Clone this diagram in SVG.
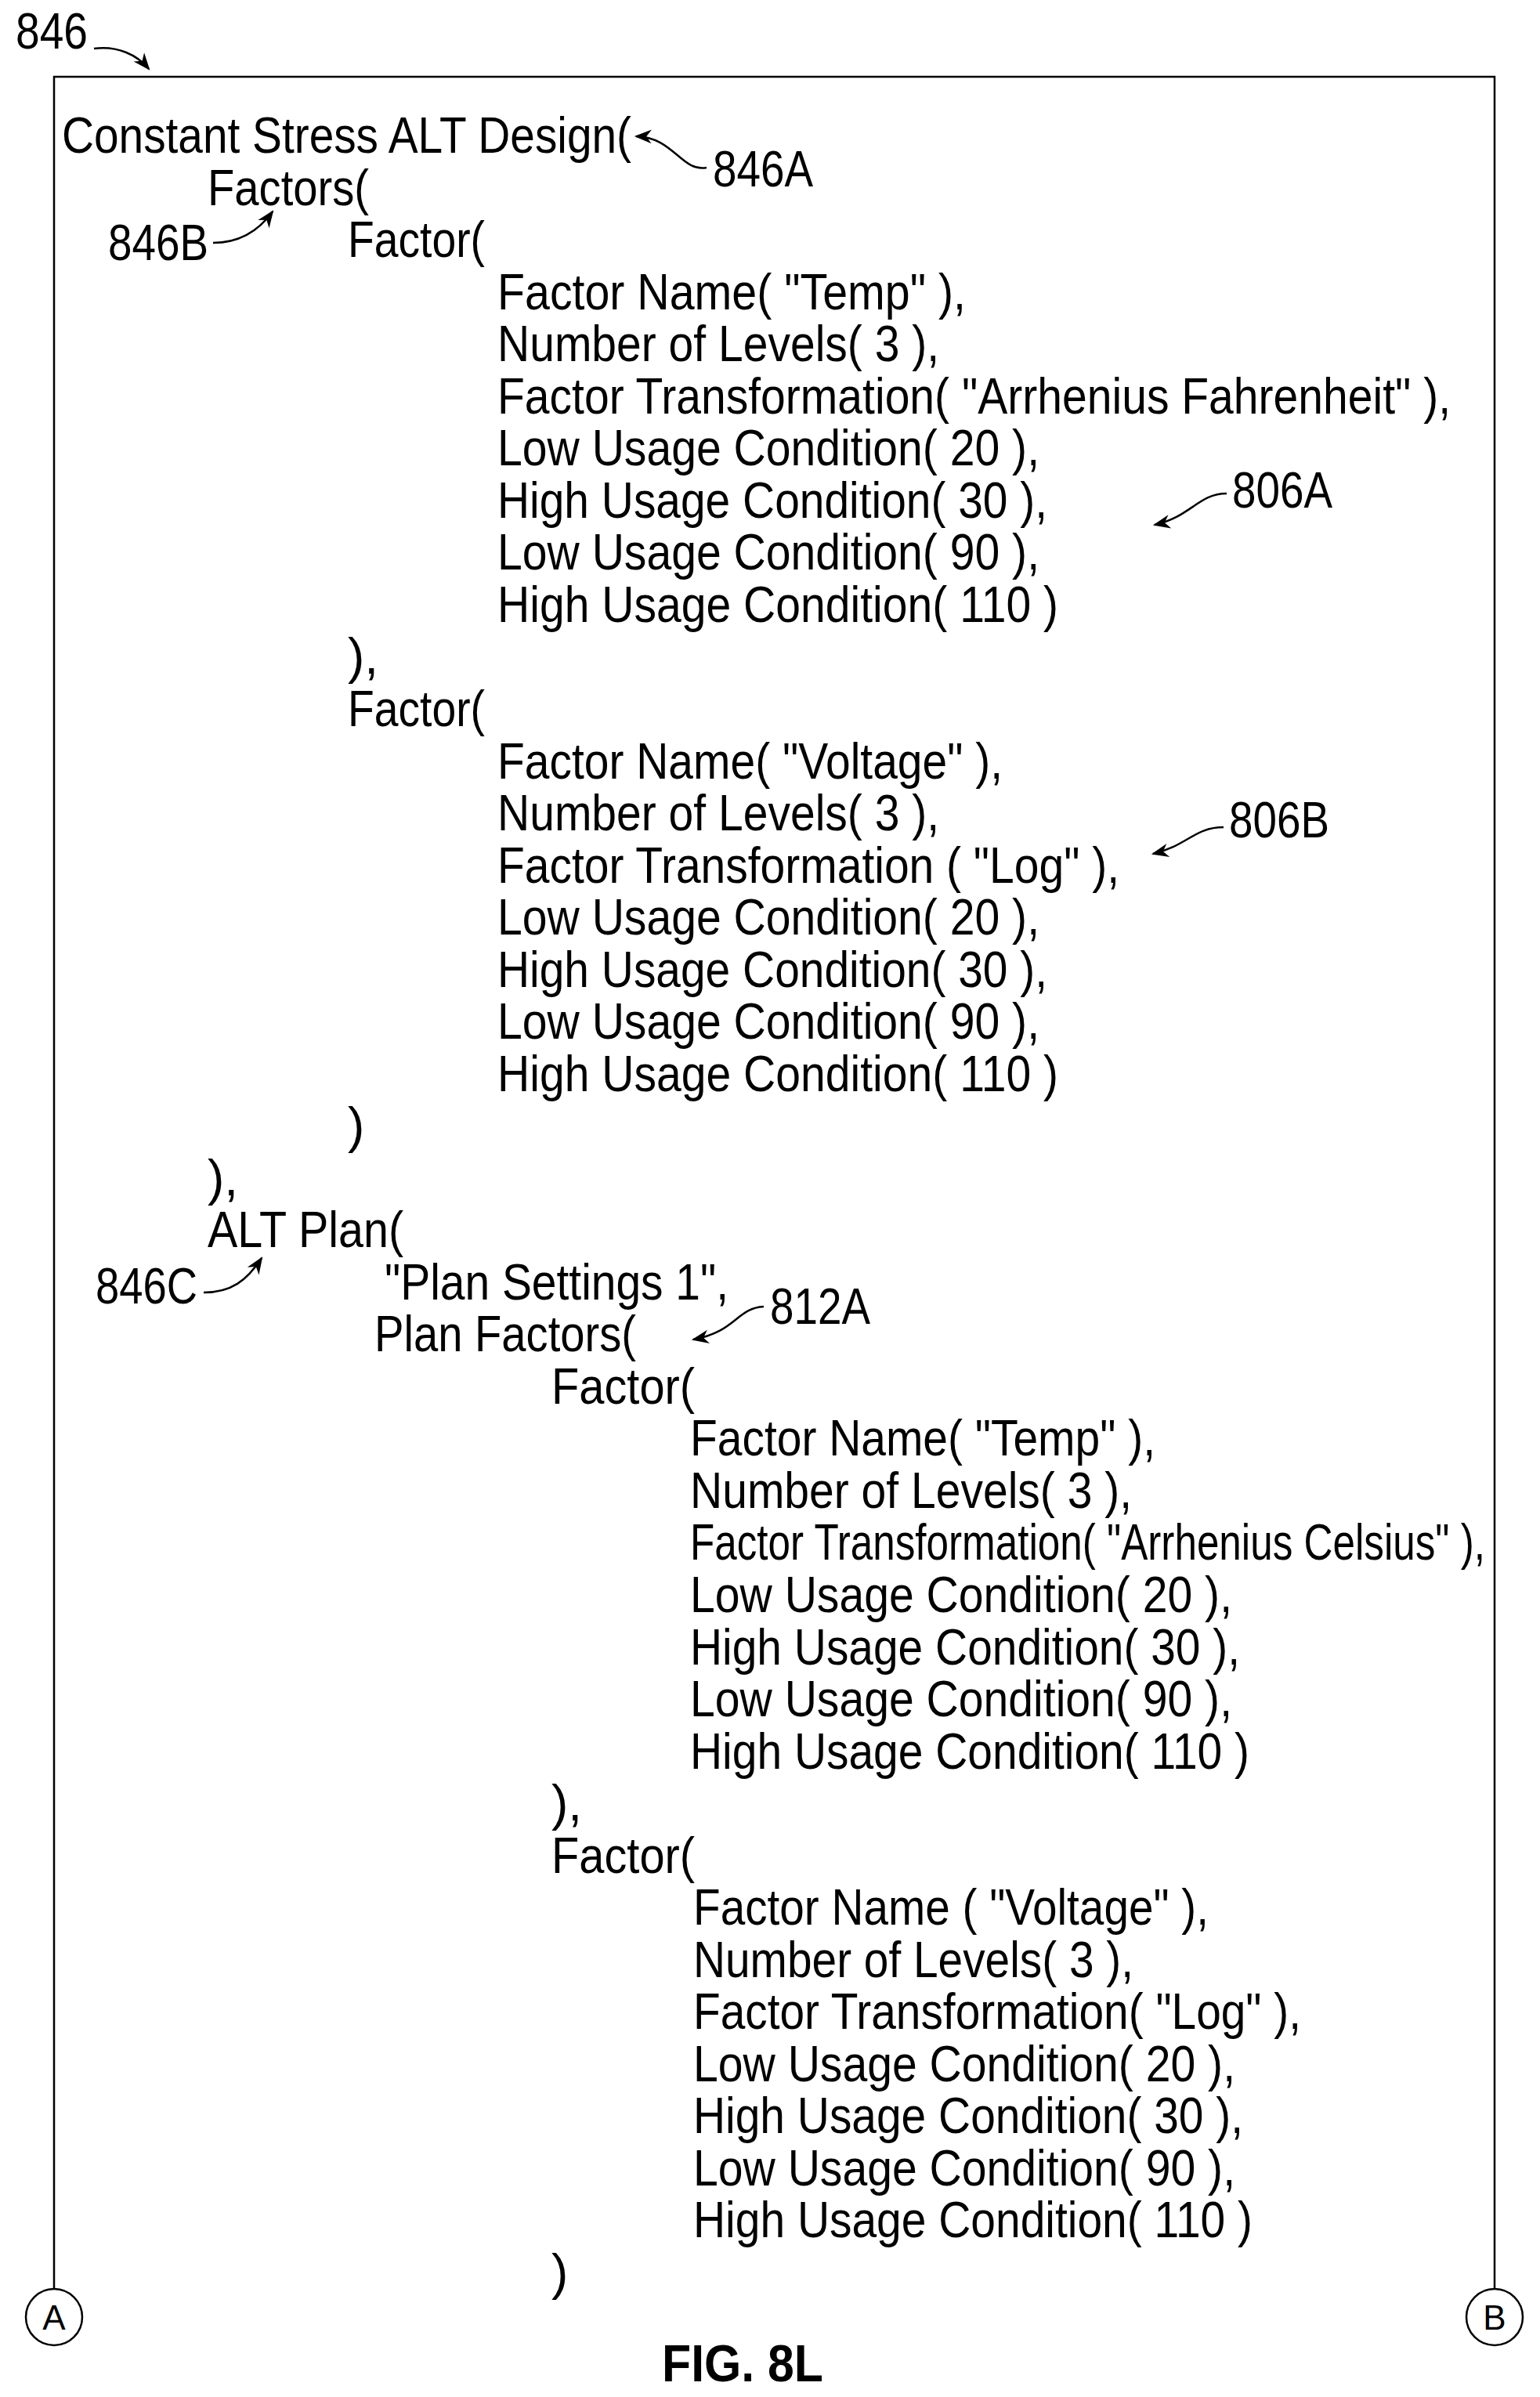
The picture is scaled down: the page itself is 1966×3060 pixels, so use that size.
<svg xmlns="http://www.w3.org/2000/svg" width="1966" height="3060" viewBox="0 0 1966 3060">
<style>
text{font-family:"Liberation Sans",Arial,sans-serif;font-size:64px;fill:#000}
.c{stroke:#000;stroke-width:2.5;fill:none}
.fig{font-weight:bold;font-size:66px}
.ci{font-size:44px}
</style>
<defs>
<marker id="ah" viewBox="0 0 10 10" refX="9" refY="5" markerWidth="26" markerHeight="22" markerUnits="userSpaceOnUse" orient="auto"><path d="M0,1 L10,5 L0,9 L3,5 Z" fill="#000"/></marker>
</defs>
<rect width="1966" height="3060" fill="#fff"/>
<g id="frame">
<path class="c" d="M69,2922 V98 H1908 V2922"/>
<circle class="c" cx="69" cy="2958" r="36"/>
<text class="ci" x="69" y="2974" text-anchor="middle">A</text>
<circle class="c" cx="1908" cy="2958" r="36"/>
<text class="ci" x="1908" y="2974" text-anchor="middle">B</text>
</g>
<g id="code">
<text x="79" y="195" textLength="727" lengthAdjust="spacingAndGlyphs">Constant Stress ALT Design(</text>
<text x="265" y="262" textLength="206" lengthAdjust="spacingAndGlyphs">Factors(</text>
<text x="444" y="328" textLength="175" lengthAdjust="spacingAndGlyphs">Factor(</text>
<text x="635" y="395" textLength="598" lengthAdjust="spacingAndGlyphs">Factor Name( "Temp" ),</text>
<text x="635" y="461" textLength="564" lengthAdjust="spacingAndGlyphs">Number of Levels( 3 ),</text>
<text x="635" y="528" textLength="1217" lengthAdjust="spacingAndGlyphs">Factor Transformation( "Arrhenius Fahrenheit" ),</text>
<text x="635" y="594" textLength="692" lengthAdjust="spacingAndGlyphs">Low Usage Condition( 20 ),</text>
<text x="635" y="661" textLength="702" lengthAdjust="spacingAndGlyphs">High Usage Condition( 30 ),</text>
<text x="635" y="727" textLength="692" lengthAdjust="spacingAndGlyphs">Low Usage Condition( 90 ),</text>
<text x="635" y="794" textLength="716" lengthAdjust="spacingAndGlyphs">High Usage Condition( 110 )</text>
<text x="444" y="860">),</text>
<text x="444" y="927" textLength="175" lengthAdjust="spacingAndGlyphs">Factor(</text>
<text x="635" y="994" textLength="645" lengthAdjust="spacingAndGlyphs">Factor Name( "Voltage" ),</text>
<text x="635" y="1060" textLength="564" lengthAdjust="spacingAndGlyphs">Number of Levels( 3 ),</text>
<text x="635" y="1127" textLength="794" lengthAdjust="spacingAndGlyphs">Factor Transformation ( "Log" ),</text>
<text x="635" y="1193" textLength="692" lengthAdjust="spacingAndGlyphs">Low Usage Condition( 20 ),</text>
<text x="635" y="1260" textLength="702" lengthAdjust="spacingAndGlyphs">High Usage Condition( 30 ),</text>
<text x="635" y="1326" textLength="692" lengthAdjust="spacingAndGlyphs">Low Usage Condition( 90 ),</text>
<text x="635" y="1393" textLength="716" lengthAdjust="spacingAndGlyphs">High Usage Condition( 110 )</text>
<text x="444" y="1459">)</text>
<text x="265" y="1526">),</text>
<text x="265" y="1592" textLength="250" lengthAdjust="spacingAndGlyphs">ALT Plan(</text>
<text x="491" y="1659" textLength="439" lengthAdjust="spacingAndGlyphs">"Plan Settings 1",</text>
<text x="478" y="1725" textLength="334" lengthAdjust="spacingAndGlyphs">Plan Factors(</text>
<text x="704" y="1792" textLength="183" lengthAdjust="spacingAndGlyphs">Factor(</text>
<text x="881" y="1858" textLength="594" lengthAdjust="spacingAndGlyphs">Factor Name( "Temp" ),</text>
<text x="881" y="1925" textLength="564" lengthAdjust="spacingAndGlyphs">Number of Levels( 3 ),</text>
<text x="881" y="1991" textLength="1015" lengthAdjust="spacingAndGlyphs">Factor Transformation( "Arrhenius Celsius" ),</text>
<text x="881" y="2058" textLength="692" lengthAdjust="spacingAndGlyphs">Low Usage Condition( 20 ),</text>
<text x="881" y="2125" textLength="702" lengthAdjust="spacingAndGlyphs">High Usage Condition( 30 ),</text>
<text x="881" y="2191" textLength="692" lengthAdjust="spacingAndGlyphs">Low Usage Condition( 90 ),</text>
<text x="881" y="2258" textLength="714" lengthAdjust="spacingAndGlyphs">High Usage Condition( 110 )</text>
<text x="704" y="2324">),</text>
<text x="704" y="2391" textLength="183" lengthAdjust="spacingAndGlyphs">Factor(</text>
<text x="885" y="2457" textLength="658" lengthAdjust="spacingAndGlyphs">Factor Name ( "Voltage" ),</text>
<text x="885" y="2524" textLength="562" lengthAdjust="spacingAndGlyphs">Number of Levels( 3 ),</text>
<text x="885" y="2590" textLength="776" lengthAdjust="spacingAndGlyphs">Factor Transformation( "Log" ),</text>
<text x="885" y="2657" textLength="692" lengthAdjust="spacingAndGlyphs">Low Usage Condition( 20 ),</text>
<text x="885" y="2723" textLength="702" lengthAdjust="spacingAndGlyphs">High Usage Condition( 30 ),</text>
<text x="885" y="2790" textLength="692" lengthAdjust="spacingAndGlyphs">Low Usage Condition( 90 ),</text>
<text x="885" y="2856" textLength="714" lengthAdjust="spacingAndGlyphs">High Usage Condition( 110 )</text>
<text x="704" y="2923">)</text>
</g>
<g id="labels">
<text x="20" y="62" textLength="92" lengthAdjust="spacingAndGlyphs">846</text>
<text x="910" y="238" textLength="128" lengthAdjust="spacingAndGlyphs">846A</text>
<text x="138" y="332" textLength="128" lengthAdjust="spacingAndGlyphs">846B</text>
<text x="1573" y="648" textLength="128" lengthAdjust="spacingAndGlyphs">806A</text>
<text x="1569" y="1069" textLength="128" lengthAdjust="spacingAndGlyphs">806B</text>
<text x="122" y="1664" textLength="130" lengthAdjust="spacingAndGlyphs">846C</text>
<text x="983" y="1690" textLength="128" lengthAdjust="spacingAndGlyphs">812A</text>
<text class="fig" x="845" y="3040" textLength="206" lengthAdjust="spacingAndGlyphs">FIG. 8L</text>
</g>
<g id="connectors">
<path class="c" marker-end="url(#ah)" d="M120,62 C150,58 175,70 190,88"/>
<path class="c" marker-end="url(#ah)" d="M902,214 C870,220 860,175 812,174"/>
<path class="c" marker-end="url(#ah)" d="M272,310 C305,310 330,295 348,270"/>
<path class="c" marker-end="url(#ah)" d="M1566,630 C1530,630 1520,660 1474,670"/>
<path class="c" marker-end="url(#ah)" d="M1562,1056 C1525,1056 1515,1080 1472,1090"/>
<path class="c" marker-end="url(#ah)" d="M260,1650 C295,1650 315,1635 334,1606"/>
<path class="c" marker-end="url(#ah)" d="M975,1668 C940,1670 940,1700 885,1710"/>
</g>
</svg>
